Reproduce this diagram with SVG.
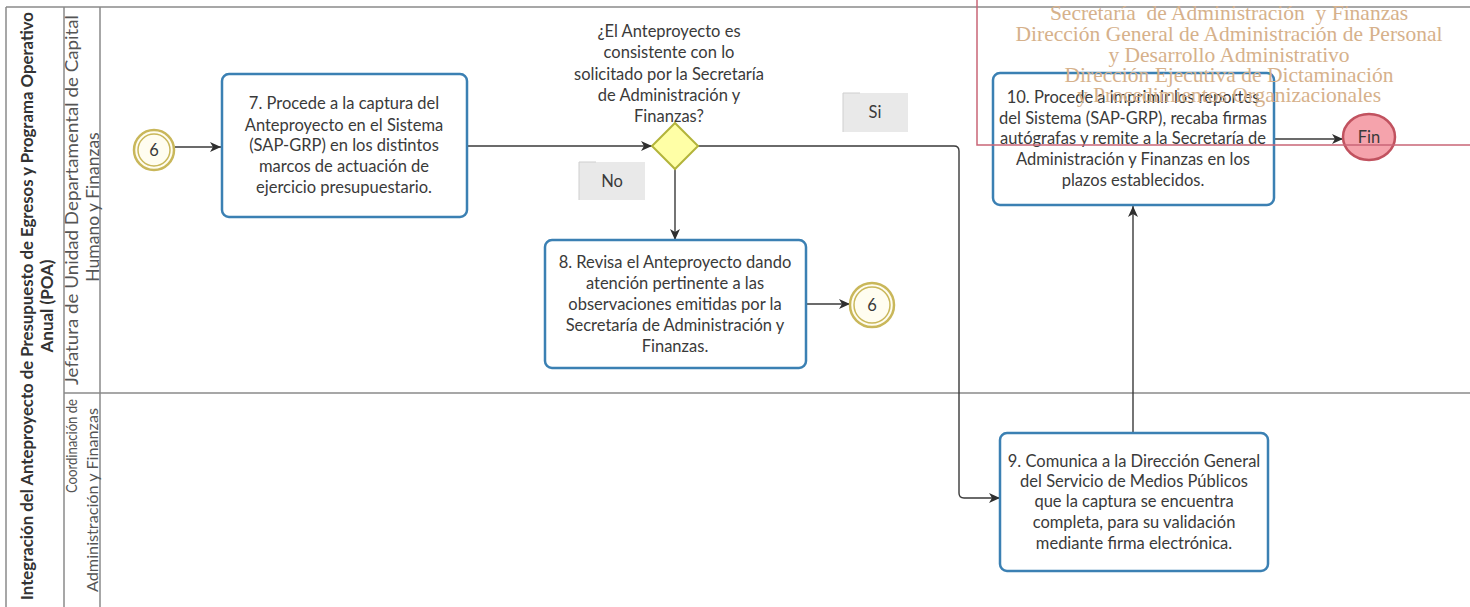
<svg xmlns="http://www.w3.org/2000/svg" width="1470" height="607" viewBox="0 0 1470 607">
  <style>
    .frame { stroke: #8a8a8a; stroke-width: 1.5; fill: none; }
    .task { fill: #ffffff; stroke: #3b80b3; stroke-width: 2.5; }
    .txt { font-family: Lato, "Liberation Sans", sans-serif; font-size: 16.5px; fill: #3a3a3a; text-anchor: middle; }
    .lane { font-family: Lato, "Liberation Sans", sans-serif; fill: #555; text-anchor: middle; }
    .pool { font-family: Lato, "Liberation Sans", sans-serif; font-size: 17px; font-weight: bold; fill: #333; text-anchor: middle; }
    .flow { fill: none; stroke: #3a3a3a; stroke-width: 1.4; marker-end: url(#arrow); }
    .link-outer { fill: #fffdf0; stroke: #c9b75a; stroke-width: 2.5; }
    .link-inner { fill: none; stroke: #c9b75a; stroke-width: 1.5; }
    .tag { fill: #e9e9e9; }
    .tag-edge { fill: none; stroke: #cfcfcf; stroke-width: 1; }
    .stamp { font-family: "Liberation Serif", serif; font-size: 21.5px; fill: #d6b18b; text-anchor: middle; }
  </style>
  <defs>
    <marker id="arrow" markerUnits="userSpaceOnUse" markerWidth="12" markerHeight="12" refX="11" refY="6" orient="auto">
      <path d="M0,1 L11,6 L0,11 L3,6 z" fill="#2f2f2f"/>
    </marker>
  </defs>

  <rect width="1470" height="607" fill="#ffffff"/>

  <!-- pool and lanes -->
  <g id="pool">
    <path class="frame" d="M6,7 H1470 M6,7 V607 M64,7 V607 M100,7 V607 M64,393 H1470"/>
    <text class="pool" transform="translate(33,306) rotate(-90)" textLength="588" lengthAdjust="spacingAndGlyphs">Integración del Anteproyecto de Presupuesto de Egresos y Programa Operativo</text>
    <text class="pool" transform="translate(53,306) rotate(-90)">Anual (POA)</text>
  </g>
  <g id="lane-jefatura">
    <text class="lane" font-size="17.5" transform="translate(78,200) rotate(-90)" textLength="370" lengthAdjust="spacingAndGlyphs">Jefatura de Unidad Departamental de Capital</text>
    <text class="lane" font-size="17.5" transform="translate(99,207) rotate(-90)">Humano y Finanzas</text>
  </g>
  <g id="lane-coordinacion">
    <text class="lane" font-size="15" transform="translate(77,446) rotate(-90)" textLength="94" lengthAdjust="spacingAndGlyphs">Coordinación de</text>
    <text class="lane" font-size="15.5" transform="translate(98,500) rotate(-90)" textLength="184" lengthAdjust="spacingAndGlyphs">Administración y Finanzas</text>
  </g>

  <!-- connectors -->
  <g id="connectors">
    <path class="flow" d="M175,147 H221"/>
    <path class="flow" d="M467,146 H652"/>
    <path class="flow" d="M697,146 H954 Q959,146 959,151 V493 Q959,498 964,498 H1000"/>
    <path class="flow" d="M675,169 V240"/>
    <path class="flow" d="M806,304 H850"/>
    <path class="flow" d="M1133,433 V206"/>
    <path class="flow" d="M1274,139 H1343"/>
  </g>

  <g id="start-6">
    <circle class="link-outer" cx="154" cy="150" r="20"/>
    <circle class="link-inner" cx="154" cy="150" r="16"/>
    <text class="txt" x="154" y="156">6</text>
  </g>

  <g id="task-7">
    <rect class="task" x="222" y="74" width="245" height="143" rx="7"/>
    <text class="txt" x="344" y="109">7. Procede a la captura del</text>
    <text class="txt" x="344" y="131">Anteproyecto en el Sistema</text>
    <text class="txt" x="344" y="151">(SAP-GRP) en los distintos</text>
    <text class="txt" x="344" y="172">marcos de actuación de</text>
    <text class="txt" x="344" y="193">ejercicio presupuestario.</text>
  </g>

  <g id="gateway">
    <path d="M675,123 L698,146 L675,169 L652,146 z" fill="#ffffa6" stroke="#b3b43a" stroke-width="2"/>
    <text class="txt" x="669" y="37">¿El Anteproyecto es</text>
    <text class="txt" x="669" y="58">consistente con lo</text>
    <text class="txt" x="669" y="80">solicitado por la Secretaría</text>
    <text class="txt" x="669" y="101">de Administración y</text>
    <text class="txt" x="669" y="122">Finanzas?</text>
  </g>

  <g id="label-si">
    <rect class="tag" x="843" y="93" width="65" height="39"/>
    <path class="tag-edge" d="M843,132 V93 H860"/>
    <text class="txt" x="875" y="118">Si</text>
  </g>
  <g id="label-no">
    <rect class="tag" x="579" y="162" width="66" height="38"/>
    <path class="tag-edge" d="M579,200 V162 H596"/>
    <text class="txt" x="612" y="187">No</text>
  </g>

  <g id="task-8">
    <rect class="task" x="545" y="240" width="261" height="128" rx="7"/>
    <text class="txt" x="675" y="268">8. Revisa el Anteproyecto dando</text>
    <text class="txt" x="675" y="289">atención pertinente a las</text>
    <text class="txt" x="675" y="310">observaciones emitidas por la</text>
    <text class="txt" x="675" y="331">Secretaría de Administración y</text>
    <text class="txt" x="675" y="352">Finanzas.</text>
  </g>

  <g id="link-6">
    <circle class="link-outer" cx="872" cy="305" r="22"/>
    <circle class="link-inner" cx="872" cy="305" r="18"/>
    <text class="txt" x="872" y="311">6</text>
  </g>

  <g id="task-10">
    <rect class="task" x="993" y="73" width="281" height="132" rx="7"/>
    <text class="txt" x="1133" y="103">10. Procede a imprimir los reportes</text>
    <text class="txt" x="1133" y="124">del Sistema (SAP-GRP), recaba firmas</text>
    <text class="txt" x="1133" y="144">autógrafas y remite a la Secretaría de</text>
    <text class="txt" x="1133" y="165">Administración y Finanzas en los</text>
    <text class="txt" x="1133" y="186">plazos establecidos.</text>
  </g>

  <g id="end">
    <ellipse cx="1369" cy="137" rx="26" ry="23" fill="#f5a3ac" stroke="#c1525f" stroke-width="2.5"/>
    <text class="txt" x="1369" y="143">Fin</text>
  </g>

  <g id="task-9">
    <rect class="task" x="1000" y="433" width="268" height="138" rx="7"/>
    <text class="txt" x="1134" y="467">9. Comunica a la Dirección General</text>
    <text class="txt" x="1134" y="487">del Servicio de Medios Públicos</text>
    <text class="txt" x="1134" y="507">que la captura se encuentra</text>
    <text class="txt" x="1134" y="528">completa, para su validación</text>
    <text class="txt" x="1134" y="549">mediante firma electrónica.</text>
  </g>

  <!-- office stamp -->
  <g id="stamp">
    <path d="M977,0 V145 H1470" fill="none" stroke="#c96577" stroke-width="1.5"/>
    <text class="stamp" x="1229" y="20" xml:space="preserve">Secretaría  de Administración  y Finanzas</text>
    <text class="stamp" x="1229" y="41">Dirección General de Administración de Personal</text>
    <text class="stamp" x="1229" y="62">y Desarrollo Administrativo</text>
    <text class="stamp" x="1229" y="82">Dirección Ejecutiva de Dictaminación</text>
    <text class="stamp" x="1229" y="102">y Procedimientos Organizacionales</text>
  </g>
</svg>
